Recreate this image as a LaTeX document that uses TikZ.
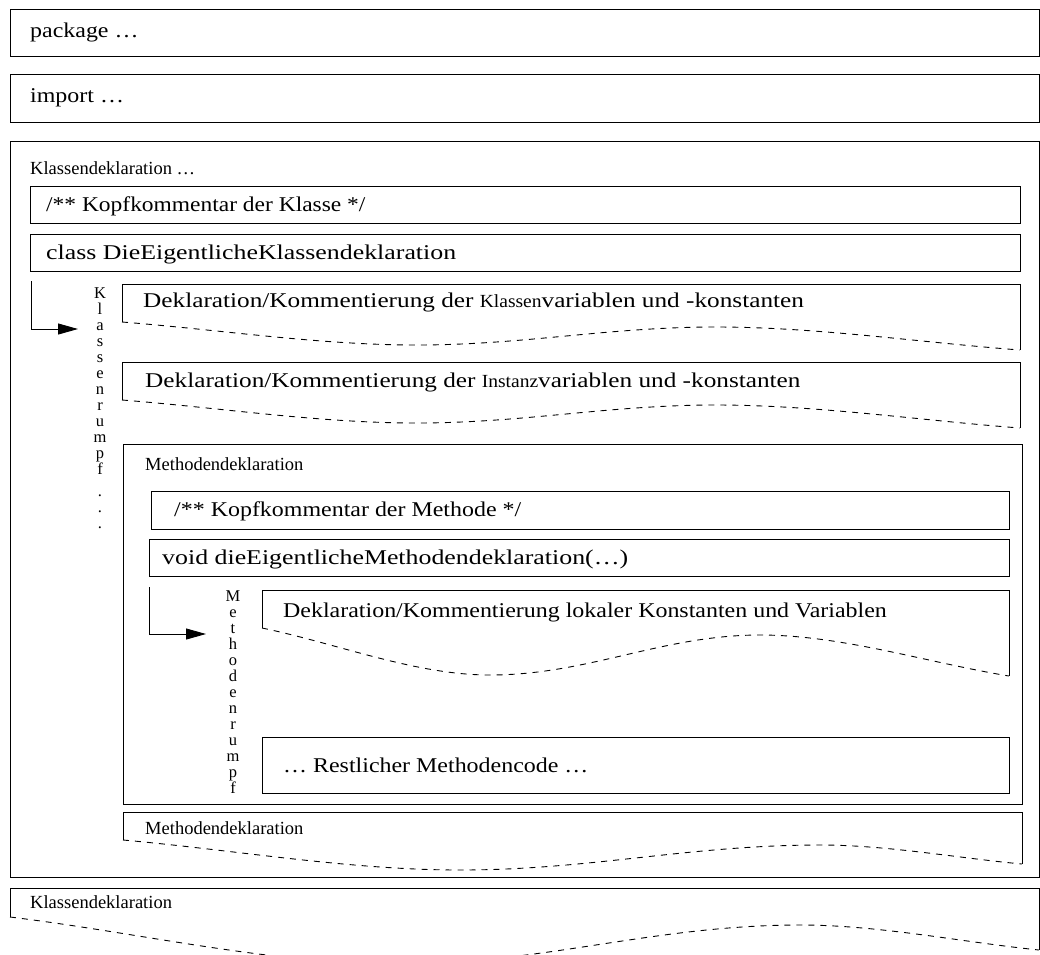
\documentclass[tikz,border=0pt]{standalone}
\usepackage{fontspec}
\setmainfont{Liberation Serif}
\newfontfamily\breitschrift[FakeStretch=1.14]{Liberation Serif}
\usetikzlibrary{arrows.meta}
\newcommand{\grosstext}{\breitschrift\fontsize{21}{24}\selectfont}
\newcommand{\kleintext}{\rmfamily\fontsize{18.5}{22}\selectfont}
\newcommand{\senktext}{\rmfamily\fontsize{16.5}{16}\selectfont}
\tikzset{
  kasten/.style={draw=black, line width=0.9pt},
  welle/.style={draw=black, line width=0.9pt, dash pattern=on 6pt off 6pt},
  gross/.style={anchor=base west, font=\grosstext},
  klein/.style={anchor=base west, font=\kleintext},
  breiter/.style={xscale=#1, transform shape},
  senkrecht/.style={anchor=north, align=center, font=\senktext},
  pfeil/.style={draw=black, line width=0.9pt, -{Triangle[length=20pt,width=11pt]}}
}
\begin{document}
\begin{tikzpicture}[x=1pt,y=-1pt]
            \tikzstyle{every node}+=[inner sep=0pt]
            \clip (0,0) rectangle (1040,954);
            \draw [kasten] (10,9) rectangle (1039,56);
            \node [gross] (package) at (30,37) {package …};
            \draw [kasten] (10,74) rectangle (1039,122);
            \node [gross] (import) at (30,102) {import …};
            \draw [kasten] (10,141) rectangle (1039,877);
            \node [klein] (kdekl) at (30,174) {Klassendeklaration …};
            \draw [kasten] (30,186) rectangle (1020,223);
            \node [gross, breiter=0.98] (kkopf) at (46,211) {/** Kopfkommentar der Klasse */};
            \draw [kasten] (30,234) rectangle (1020,271);
            \node [gross, breiter=1.08] (kclass) at (46,259) {class DieEigentlicheKlassendeklaration};
            \coordinate (kstart) at (31,281);
            \coordinate (kziel) at (78,329);
            \draw [pfeil] (kstart) |- (kziel);
            \node [senkrecht] (krumpf) at (100,287) {K\\l\\a\\s\\s\\e\\n\\r\\u\\m\\p\\f\\[6pt].\\.\\.};
            \draw [kasten] (122,322) |- (1020,284) -- (1020,350);
            \draw [welle] (122,322) .. controls (220,329.7) and (319,345) .. (416,345)
                .. controls (525,345) and (607,327) .. (716,327)
                .. controls (816,327) and (919,342.3) .. (1020,350);
            \node [gross, breiter=1.055] (kvar) at (143,307) {Deklaration/Kommentierung der {\kleintext Klassen}variablen und -konstanten};
            \draw [kasten] (122,400) |- (1020,362) -- (1020,428);
            \draw [welle] (122,400) .. controls (220,407.7) and (319,423) .. (416,423)
                .. controls (525,423) and (607,405) .. (716,405)
                .. controls (816,405) and (919,420.3) .. (1020,428);
            \node [gross, breiter=1.055] (ivar) at (145,387) {Deklaration/Kommentierung der {\kleintext Instanz}variablen und -konstanten};
            \draw [kasten] (123,444) rectangle (1022,804);
            \node [klein] (mdekl) at (145,470) {Methodendeklaration};
            \draw [kasten] (151,491) rectangle (1009,529);
            \node [gross] (mkopf) at (174,516) {/** Kopfkommentar der Methode */};
            \draw [kasten] (149,539) rectangle (1009,576);
            \node [gross, breiter=1.08] (mvoid) at (162,564) {void dieEigentlicheMethodendeklaration(…)};
            \coordinate (mstart) at (149,587);
            \coordinate (mziel) at (206,634);
            \draw [pfeil] (mstart) |- (mziel);
            \node [senkrecht] (mrumpf) at (233,590) {M\\e\\t\\h\\o\\d\\e\\n\\r\\u\\m\\p\\f};
            \draw [kasten] (262,628) |- (1009,590) -- (1009,676);
            \draw [welle] (262,628) .. controls (338,643.7) and (415,675) .. (490,675)
                .. controls (588,675) and (662,635) .. (760,635)
                .. controls (842,635) and (926,662.3) .. (1009,676);
            \node [gross] (lokal) at (283,617) {Deklaration/Kommentierung lokaler Konstanten und Variablen};
            \draw [kasten] (262,737) rectangle (1009,793);
            \node [gross] (rest) at (283,772) {… Restlicher Methodencode …};
            \draw [kasten] (123,840) |- (1022,812) -- (1022,864);
            \draw [welle] (123,840) .. controls (235,850) and (349,870) .. (460,870)
                .. controls (591,870) and (689,845) .. (820,845)
                .. controls (887,845) and (955,857.7) .. (1022,864);
            \node [klein] (mdekl2) at (145,834) {Methodendeklaration};
            \draw [kasten] (10,917) |- (1039,888) -- (1039,950);
            \draw [welle] (10,917) .. controls (139,932.7) and (270,964) .. (398,964)
                .. controls (544,964) and (654,925) .. (800,925)
                .. controls (879,925) and (959,941.7) .. (1039,950);
            \node [klein] (kdekl2) at (30,908) {Klassendeklaration};
        \end{tikzpicture}
\end{document}
